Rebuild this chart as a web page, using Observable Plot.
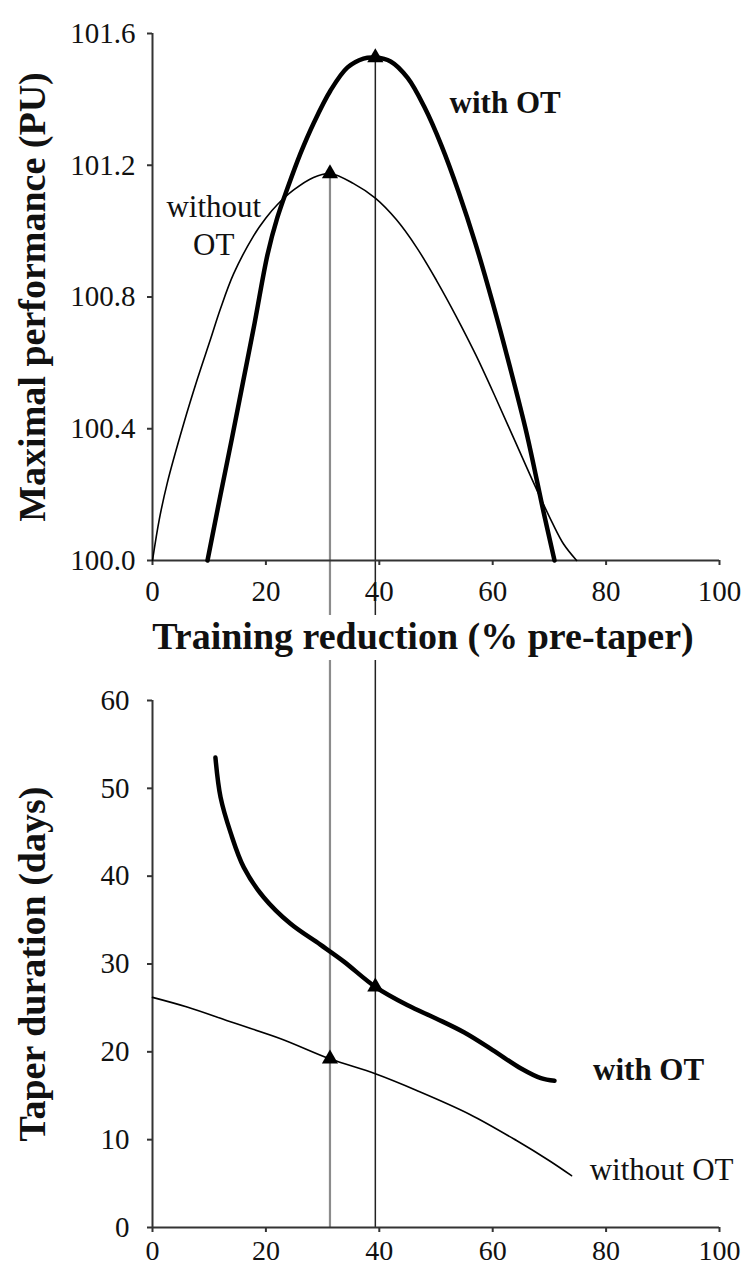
<!DOCTYPE html>
<html><head><meta charset="utf-8">
<script src="https://cdn.jsdelivr.net/npm/d3@7"></script>
<script src="https://cdn.jsdelivr.net/npm/@observablehq/plot@0.6"></script>
<style>
body{margin:0;background:#fff;}
#chart{width:752px;height:1268px;position:relative;overflow:hidden;}
#chart svg{display:block;}
</style></head><body><div id="chart"></div>
<script>
// ---- Data ----
const reductionTicks = [0, 20, 40, 60, 80, 100];
const perfTicks = [100.0, 100.4, 100.8, 101.2, 101.6];
const durationTicks = [0, 10, 20, 30, 40, 50, 60];

// Top panel: maximal performance (PU) vs training reduction (% pre-taper)
const perfWithOT_x = [9.7, 12.0, 14.0, 16.0, 18.0, 20.3, 22.0, 23.8, 26.1, 28.4, 31.4, 34.4, 37.2, 39.3, 42.0, 45.0, 48.0, 51.0, 54.0, 57.0, 60.0, 63.0, 66.0, 69.0, 70.9];
const perfWithOT_y = [100.0, 100.20, 100.37, 100.545, 100.72, 100.93, 101.04, 101.13, 101.236, 101.327, 101.427, 101.497, 101.524, 101.527, 101.515, 101.465, 101.375, 101.258, 101.118, 100.96, 100.782, 100.59, 100.385, 100.145, 100.0];
const perfWithoutOT_x = [0, 1.2, 2.6, 5.5, 7.9, 10.2, 12.0, 14.3, 17.8, 20.0, 22.0, 24.9, 28.4, 31.3, 35.4, 39.3, 43.0, 46.6, 50.1, 53.6, 57.0, 60.5, 64.0, 67.5, 70.5, 72.5, 74.8];
const perfWithoutOT_y = [100.0, 100.125, 100.235, 100.415, 100.55, 100.67, 100.765, 100.87, 100.985, 101.04, 101.08, 101.125, 101.163, 101.175, 101.145, 101.10, 101.035, 100.95, 100.85, 100.74, 100.625, 100.495, 100.36, 100.225, 100.115, 100.05, 100.0];

// Bottom panel: taper duration (days) vs training reduction
const durWithOT_x = [11.1, 12.0, 13.8, 16.1, 19.6, 24.3, 29.6, 33.7, 39.3, 45.0, 50.0, 55.0, 60.0, 65.0, 68.5, 70.9];
const durWithOT_y = [53.5, 49.0, 44.9, 41.0, 37.6, 34.6, 32.2, 30.3, 27.4, 25.3, 23.8, 22.2, 20.2, 18.1, 17.0, 16.7];
const durWithoutOT_x = [0, 6.1, 14.3, 22.6, 31.3, 39.3, 46.6, 55.9, 64.2, 70.0, 73.9];
const durWithoutOT_y = [26.2, 25.1, 23.3, 21.5, 19.2, 17.5, 15.6, 12.9, 9.9, 7.6, 5.9];

// Optima (triangles + vertical guide lines)
const optSeries = ["without OT", "with OT"];
const optReduction = [31.3, 39.3];
const optPerf = [101.175, 101.527];
const optDuration = [19.2, 27.4];
const optColor = ["#8c8c8c", "#222222"];

// Annotations
const topBoldLabel = ["with OT"];
const topBoldX = [52.4];
const topBoldY = [101.389];
const topPlainLabel = ["without\nOT"];
const topPlainX = [10.8];
const topPlainY = [101.022];
const bottomBoldLabel = ["with OT"];
const bottomBoldX = [77.7];
const bottomBoldY = [17.94];
const bottomPlainLabel = ["without OT"];
const bottomPlainX = [77.1];
const bottomPlainY = [6.55];

// ---- Build tables ----
const rows = (xs, ys) => xs.map((x, i) => ({x, y: ys[i]}));
const labels = (ts, xs, ys) => ts.map((t, i) => ({t, x: xs[i], y: ys[i]}));
const opt = optSeries.map((s, i) => ({s, r: optReduction[i], perf: optPerf[i], dur: optDuration[i], c: optColor[i], w: i === 0 ? 2.2 : 1.5}));

const font = "'Liberation Serif', 'Times New Roman', serif";
const ink = "#111";
const axisInk = "#333";

const topChart = Plot.plot({
  width: 752, height: 660,
  marginLeft: 152, marginRight: 33, marginTop: 33, marginBottom: 100,
  x: {domain: [0, 100]},
  y: {domain: [100, 101.6]},
  color: {type: "identity"},
  style: {fontFamily: font, color: ink, background: "white"},
  marks: [
    Plot.ruleX(opt, {x: "r", y1: "perf", y2: 100, stroke: "c", strokeWidth: "w", insetBottom: -55}),
    Plot.ruleX([0], {stroke: axisInk, strokeWidth: 2}),
    Plot.ruleY([100], {stroke: axisInk, strokeWidth: 2}),
    Plot.axisX({ticks: reductionTicks, tickSize: 5, tickPadding: 15, fontSize: 29, label: null, stroke: axisInk, strokeWidth: 2, fill: ink}),
    Plot.axisY({ticks: perfTicks, tickFormat: d3.format(".1f"), tickSize: 5, tickPadding: 12, fontSize: 29, label: null, stroke: axisInk, strokeWidth: 2, fill: ink}),
    Plot.line(rows(perfWithoutOT_x, perfWithoutOT_y), {x: "x", y: "y", stroke: "#000", strokeWidth: 1.6, curve: "catmull-rom"}),
    Plot.line(rows(perfWithOT_x, perfWithOT_y), {x: "x", y: "y", stroke: "#000", strokeWidth: 4.5, curve: "catmull-rom"}),
    Plot.dot(opt, {x: "r", y: "perf", symbol: "triangle", r: 6, fill: "#000", stroke: null}),
    Plot.text(labels(topBoldLabel, topBoldX, topBoldY), {x: "x", y: "y", text: "t", fontSize: 31, fontWeight: "bold", textAnchor: "start", fill: ink}),
    Plot.text(labels(topPlainLabel, topPlainX, topPlainY), {x: "x", y: "y", text: "t", fontSize: 31, lineHeight: 1.23, textAnchor: "middle", fill: ink}),
    Plot.text(["Maximal performance (PU)"], {frameAnchor: "left", dx: -120, rotate: -90, textAnchor: "middle", lineAnchor: "middle", fontSize: 38, fontWeight: "bold", fill: ink}),
    Plot.text(["Training reduction (% pre-taper)"], {frameAnchor: "bottom", dy: 76, dx: -13, textAnchor: "middle", lineAnchor: "middle", fontSize: 38, fontWeight: "bold", fill: ink})
  ]
});

const bottomChart = Plot.plot({
  width: 752, height: 608,
  marginLeft: 152, marginRight: 33, marginTop: 40, marginBottom: 41,
  x: {domain: [0, 100]},
  y: {domain: [0, 60]},
  color: {type: "identity"},
  style: {fontFamily: font, color: ink, background: "white"},
  marks: [
    Plot.ruleX(opt, {x: "r", stroke: "c", strokeWidth: "w", insetTop: -40}),
    Plot.ruleX([0], {stroke: axisInk, strokeWidth: 2}),
    Plot.ruleY([0], {stroke: axisInk, strokeWidth: 2}),
    Plot.axisX({ticks: reductionTicks, tickSize: 5, tickPadding: 8, fontSize: 28, label: null, stroke: axisInk, strokeWidth: 2, fill: ink}),
    Plot.axisY({ticks: durationTicks, tickSize: 5, tickPadding: 18, fontSize: 29, label: null, stroke: axisInk, strokeWidth: 2, fill: ink}),
    Plot.line(rows(durWithoutOT_x, durWithoutOT_y), {x: "x", y: "y", stroke: "#000", strokeWidth: 1.6, curve: "catmull-rom"}),
    Plot.line(rows(durWithOT_x, durWithOT_y), {x: "x", y: "y", stroke: "#000", strokeWidth: 4.5, curve: "catmull-rom"}),
    Plot.dot(opt, {x: "r", y: "dur", symbol: "triangle", r: 6, fill: "#000", stroke: null}),
    Plot.text(labels(bottomBoldLabel, bottomBoldX, bottomBoldY), {x: "x", y: "y", text: "t", fontSize: 31, fontWeight: "bold", textAnchor: "start", fill: ink}),
    Plot.text(labels(bottomPlainLabel, bottomPlainX, bottomPlainY), {x: "x", y: "y", text: "t", fontSize: 31, textAnchor: "start", fill: ink}),
    Plot.text(["Taper duration (days)"], {frameAnchor: "left", dx: -120, rotate: -90, textAnchor: "middle", lineAnchor: "middle", fontSize: 38, fontWeight: "bold", fill: ink})
  ]
});

document.getElementById("chart").append(topChart, bottomChart);
</script></body></html>
